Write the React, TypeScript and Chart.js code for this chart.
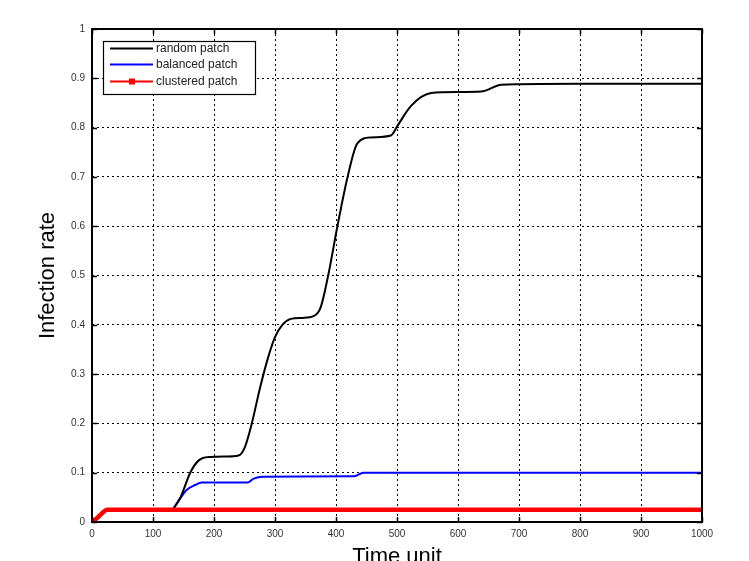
import React, { useEffect, useRef } from "react";
import { Chart, registerables } from "chart.js";

Chart.register(...registerables);

// ---- data ----
const randomX = [0, 10, 15, 25, 130, 145, 161, 175, 194, 220, 240, 250, 262, 275, 289, 300, 312, 326, 345, 364, 375, 388, 402, 419, 435, 457, 490, 501, 523, 556, 600, 638, 671, 700, 800, 900, 1000];
const randomY = [0, 0.01, 0.015, 0.025, 0.025, 0.05, 0.1, 0.125, 0.132, 0.133, 0.135, 0.15, 0.2, 0.27, 0.335, 0.375, 0.4, 0.412, 0.414, 0.418, 0.436, 0.505, 0.598, 0.7, 0.768, 0.78, 0.784, 0.804, 0.844, 0.87, 0.872, 0.873, 0.887, 0.888, 0.889, 0.889, 0.889];

const balancedX = [0, 10, 15, 25, 130, 140, 155, 169, 180, 255, 265, 280, 430, 445, 1000];
const balancedY = [0, 0.01, 0.015, 0.025, 0.025, 0.04, 0.065, 0.075, 0.08, 0.08, 0.088, 0.092, 0.093, 0.1, 0.1];

const clusteredX = [0, 10, 15, 25, 1000];
const clusteredY = [0, 0.01, 0.016, 0.025, 0.025];

const seriesLabels = ["random patch", "balanced patch", "clustered patch"];
const seriesColors = ["#000000", "#0000ff", "#ff0000"];

const xTickValues = [0, 100, 200, 300, 400, 500, 600, 700, 800, 900, 1000];
const yTickValues = [0, 0.1, 0.2, 0.3, 0.4, 0.5, 0.6, 0.7, 0.8, 0.9, 1];

const xTitle = "Time unit";
const yTitle = "Infection rate";

const FONT = "'Liberation Sans', Arial, Helvetica, sans-serif";

function toPoints(xs: number[], ys: number[]) {
  return xs.map((x, i) => ({ x, y: ys[i] }));
}

const framePlugin = {
  id: "matlabFrame",
  afterDatasetsDraw(chart: any) {
    const { ctx, chartArea, scales } = chart;
    const { left, right, top, bottom } = chartArea;
    ctx.save();
    ctx.strokeStyle = "#000";
    ctx.lineWidth = 1.5;
    const len = 5;
    ctx.beginPath();
    xTickValues.forEach((v) => {
      const px = Math.round(scales.x.getPixelForValue(v)) + 0.5;
      ctx.moveTo(px, bottom);
      ctx.lineTo(px, bottom - len);
      ctx.moveTo(px, top);
      ctx.lineTo(px, top + len);
    });
    yTickValues.forEach((v) => {
      const py = Math.round(scales.y.getPixelForValue(v)) + 0.5;
      ctx.moveTo(left, py);
      ctx.lineTo(left + len, py);
      ctx.moveTo(right, py);
      ctx.lineTo(right - len, py);
    });
    ctx.stroke();
    ctx.lineWidth = 2;
    ctx.strokeRect(left, top, right - left, bottom - top);
    ctx.restore();
  },
  afterDraw(chart: any) {
    const { ctx, chartArea } = chart;
    const bx = chartArea.left + 11;
    const by = chartArea.top + 12;
    const bw = 152;
    const bh = 53;
    ctx.save();
    ctx.fillStyle = "#fff";
    ctx.fillRect(bx, by, bw, bh);
    ctx.strokeStyle = "#000";
    ctx.lineWidth = 1.2;
    ctx.strokeRect(bx + 0.5, by + 0.5, bw, bh);
    const rows = [by + 7, by + 23, by + 40];
    chart.data.datasets.forEach((ds: any, i: number) => {
      const y = Math.round(rows[i]) + 0.5;
      ctx.strokeStyle = ds.borderColor;
      ctx.lineWidth = 2;
      ctx.beginPath();
      ctx.moveTo(bx + 7, y);
      ctx.lineTo(bx + 50, y);
      ctx.stroke();
      if (i === 2) {
        ctx.fillStyle = ds.borderColor;
        ctx.fillRect(bx + 26, y - 3, 6, 6);
      }
      ctx.fillStyle = "#222";
      ctx.font = `12px ${FONT}`;
      ctx.textBaseline = "middle";
      ctx.textAlign = "left";
      ctx.fillText(ds.label, bx + 53, y);
    });
    ctx.restore();
  },
};

export default function App() {
  const ref = useRef<HTMLCanvasElement | null>(null);

  useEffect(() => {
    document.body.style.margin = "0";
    const canvas = ref.current;
    if (!canvas) return;
    const gridCommon = {
      color: "#000",
      lineWidth: 1,
      drawTicks: false,
    };
    const chart = new Chart(canvas, {
      type: "scatter",
      data: {
        datasets: [
          {
            label: seriesLabels[0],
            data: toPoints(randomX, randomY),
            borderColor: seriesColors[0],
            backgroundColor: seriesColors[0],
            borderWidth: 2,
            showLine: true,
            pointRadius: 0,
            cubicInterpolationMode: "monotone",
            order: 1,
          },
          {
            label: seriesLabels[1],
            data: toPoints(balancedX, balancedY),
            borderColor: seriesColors[1],
            backgroundColor: seriesColors[1],
            borderWidth: 2,
            showLine: true,
            pointRadius: 0,
            cubicInterpolationMode: "monotone",
            order: 2,
          },
          {
            label: seriesLabels[2],
            data: toPoints(clusteredX, clusteredY),
            borderColor: seriesColors[2],
            backgroundColor: seriesColors[2],
            borderWidth: 4.5,
            showLine: true,
            pointRadius: 0,
            cubicInterpolationMode: "monotone",
            order: 0,
          },
        ],
      },
      options: {
        responsive: false,
        animation: false,
        layout: { padding: { top: 29, right: 47, left: 0, bottom: 0 } },
        plugins: {
          legend: { display: false },
          tooltip: { enabled: false },
        },
        scales: {
          x: {
            type: "linear",
            min: 0,
            max: 1000,
            afterBuildTicks: (s: any) => {
              s.ticks = xTickValues.map((v) => ({ value: v }));
            },
            afterFit: (s: any) => {
              s.height = 39;
            },
            grid: { ...gridCommon },
            border: { display: false, dash: [2, 3] },
            ticks: {
              padding: 6,
              color: "#333",
              font: { family: FONT, size: 10 },
              maxRotation: 0,
              callback: (v: any) => String(v),
            },
            title: {
              display: true,
              text: xTitle,
              color: "#000",
              font: { family: FONT, size: 22, lineHeight: 1 },
              padding: { top: 0, bottom: -7 },
            },
          },
          y: {
            type: "linear",
            min: 0,
            max: 1,
            afterBuildTicks: (s: any) => {
              s.ticks = yTickValues.map((v) => ({ value: v }));
            },
            afterFit: (s: any) => {
              s.width = 92;
            },
            grid: { ...gridCommon },
            border: { display: false, dash: [2, 3] },
            ticks: {
              padding: 7,
              color: "#333",
              font: { family: FONT, size: 10 },
              callback: (v: any) => String(Number(Number(v).toFixed(1))),
            },
            title: {
              display: true,
              text: yTitle,
              color: "#000",
              font: { family: FONT, size: 22, lineHeight: 1 },
              padding: { top: 37, bottom: 0 },
            },
          },
        },
      } as any,
      plugins: [framePlugin],
    });
    return () => chart.destroy();
  }, []);

  return <canvas ref={ref} width={749} height={561} style={{ display: "block" }} />;
}
